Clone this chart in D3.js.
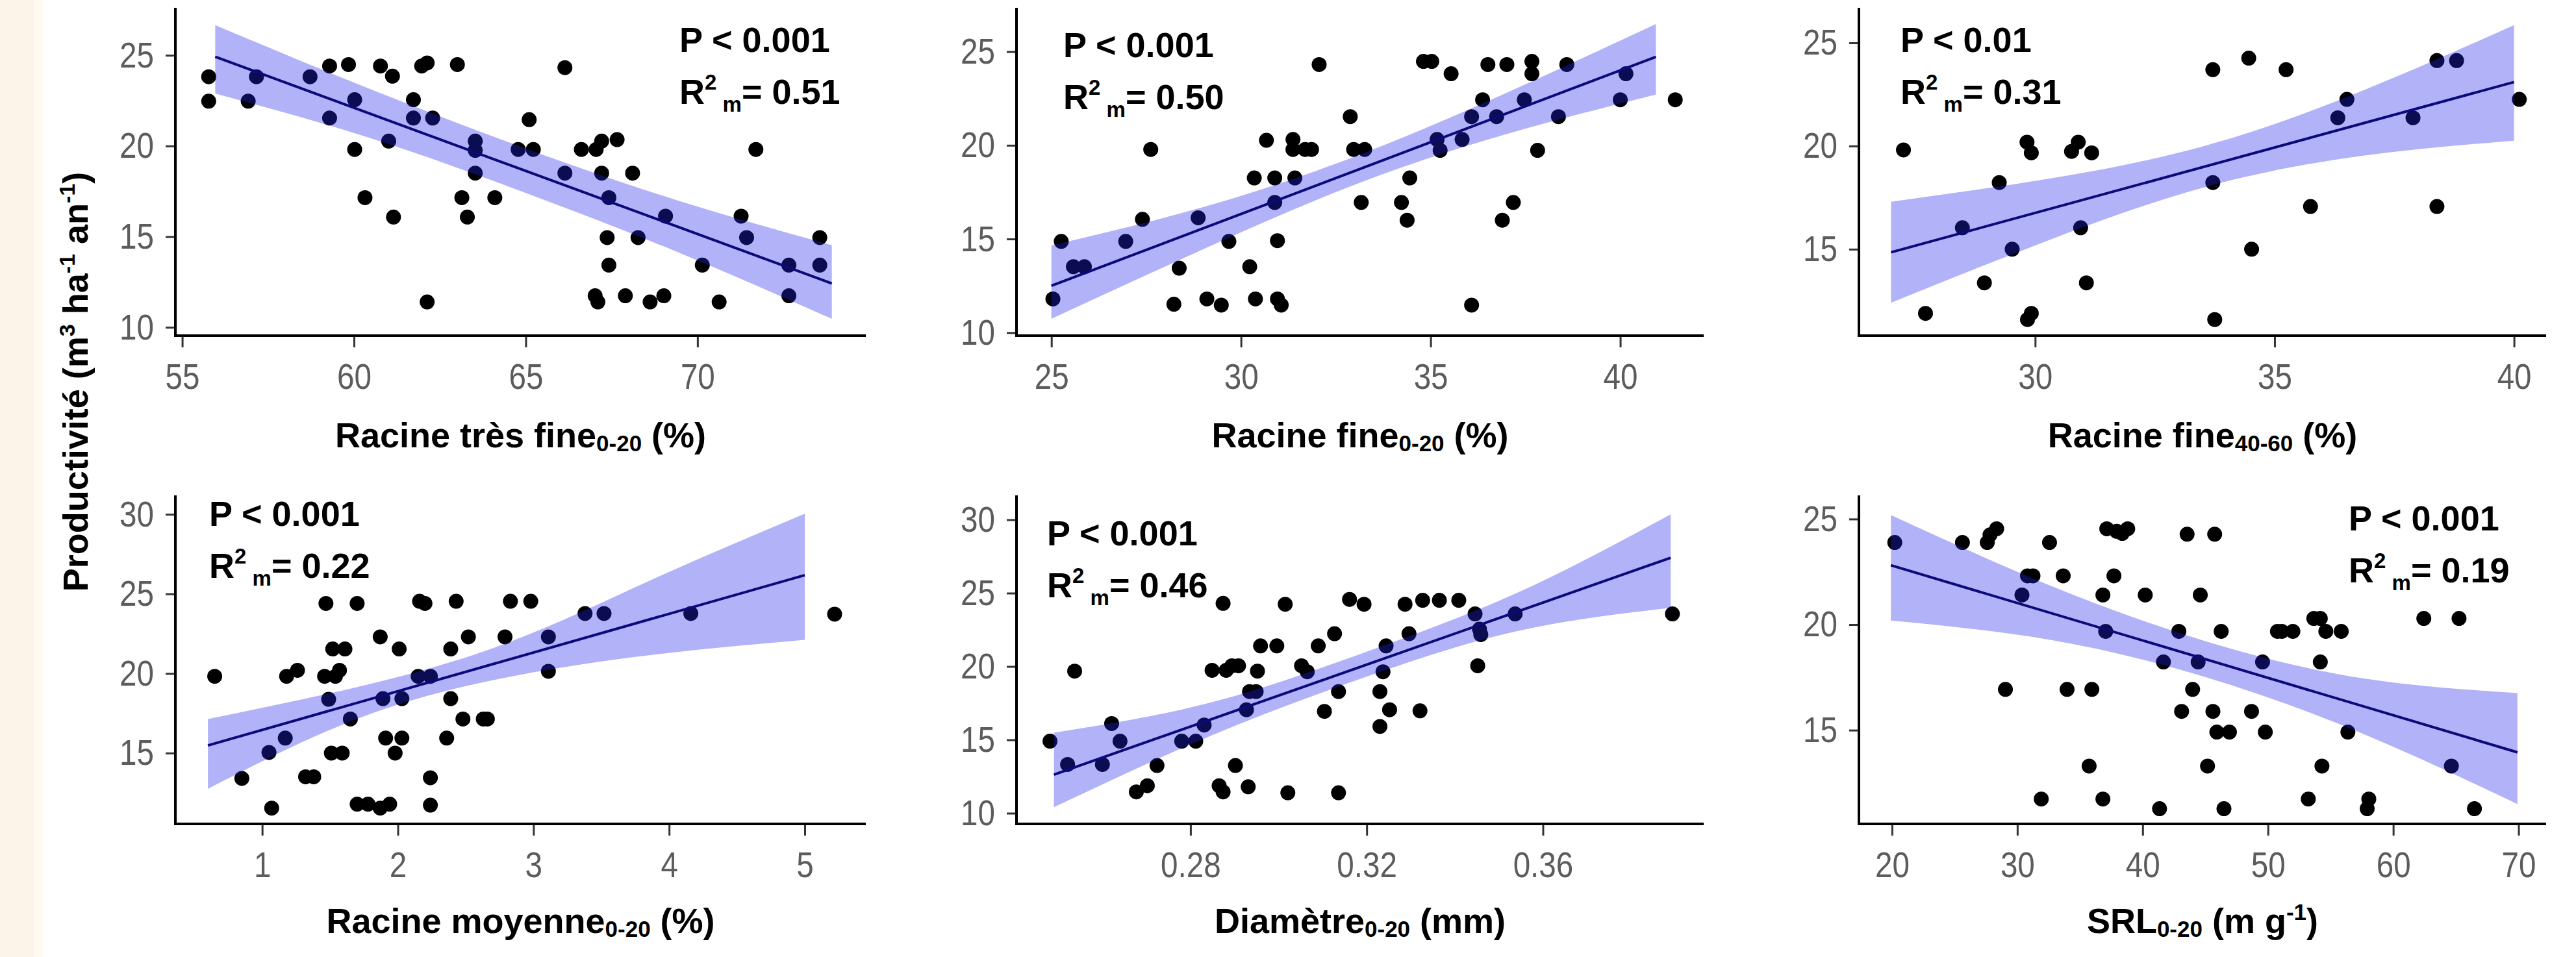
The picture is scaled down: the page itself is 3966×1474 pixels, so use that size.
<!DOCTYPE html>
<html>
<head>
<meta charset="utf-8">
<script src="https://cdn.jsdelivr.net/npm/d3@7"></script>
<style>
body{margin:0;background:#fff}
svg{display:block}
</style>
</head>
<body>
<svg id="chart" width="3966" height="1474"></svg>
<script>
// ---- data ----
// racine tres fine 0-20
var rtfX = [55.77,55.77,57.16,56.92,58.72,59.29,59.84,59.29,60.02,60.02,60.32,60.77,61.12,61.01,61.15,61.73,61.73,61.97,62.13,62.29,62.13,63.01,63.14,63.30,63.53,63.53,63.53,64.10,64.78,65.10,65.22,66.14,66.14,66.62,67.05,67.21,67.66,67.21,67.42,67.37,67.42,67.02,67.10,68.11,68.27,67.90,68.62,69.02,69.07,70.14,70.63,71.27,71.43,71.70,72.66,72.66,73.56,73.56];
var rtfY = [23.82,22.47,23.82,22.47,23.82,24.41,24.49,21.54,22.55,19.81,17.15,24.41,23.85,20.27,16.08,22.55,21.54,24.41,24.58,21.54,11.40,24.49,17.15,16.08,20.27,19.76,18.50,17.15,19.81,21.45,19.81,24.32,18.50,19.81,19.81,20.27,20.35,18.50,17.15,14.95,13.43,11.74,11.40,18.50,14.95,11.74,11.40,11.74,16.13,13.43,11.40,16.13,14.95,19.81,13.43,11.74,14.95,13.43];
// racine fine 0-20
var rfX = [25.04,25.26,25.58,25.87,26.96,27.40,27.62,28.23,28.37,28.87,29.10,29.48,29.68,30.23,30.35,30.38,30.67,30.89,30.89,30.96,30.96,31.06,31.37,31.37,31.42,31.69,31.86,32.06,32.88,32.97,33.26,33.17,34.23,34.38,34.45,34.81,35.03,35.17,35.25,35.54,35.83,36.08,36.08,36.37,36.51,36.74,36.89,37.01,37.18,37.47,37.67,37.67,37.82,38.37,38.59,40.00,40.15,41.45];
var rfY = [11.80,14.87,13.52,13.52,14.87,16.05,19.78,11.52,13.44,16.13,11.80,11.47,14.87,13.52,18.26,11.80,20.27,18.26,16.95,14.91,11.80,11.47,20.31,19.78,18.26,19.78,19.78,24.31,21.53,19.78,19.78,16.95,16.95,16.00,18.26,24.48,24.48,20.31,19.73,23.82,20.31,21.53,11.47,22.43,24.31,21.53,16.00,24.31,16.95,22.43,24.48,23.82,19.73,21.53,24.31,22.43,23.82,22.43];
// racine fine 40-60
var rf46X = [27.25,27.71,28.48,28.94,29.25,29.52,29.83,29.92,29.84,29.92,30.76,30.90,31.18,30.95,31.07,33.71,33.71,33.75,34.46,34.52,35.24,35.75,36.32,36.51,37.89,38.39,38.80,38.39,40.11];
var rf46Y = [19.81,11.89,16.04,13.37,18.23,15.00,20.19,19.67,11.59,11.89,19.74,20.19,19.67,16.04,13.37,23.70,18.23,11.59,24.26,15.00,23.70,17.07,21.37,22.26,21.37,24.14,24.14,17.07,22.26];
// racine moyenne 0-20
var rmX = [0.65,0.85,1.07,1.05,1.17,1.18,1.26,1.32,1.38,1.47,1.46,1.49,1.51,1.52,1.54,1.57,1.59,1.61,1.65,1.70,1.70,1.78,1.87,1.87,1.89,1.91,1.94,1.98,2.01,2.03,2.03,2.15,2.16,2.20,2.24,2.24,2.24,2.36,2.39,2.39,2.43,2.48,2.52,2.63,2.66,2.79,2.83,2.98,3.11,3.11,3.38,3.52,4.16,5.22];
var rmY = [19.82,13.41,11.54,15.04,15.94,19.82,20.20,13.51,13.51,24.40,19.82,18.38,15.00,21.54,19.82,20.20,15.00,21.54,17.14,24.40,11.79,11.79,11.54,22.30,18.42,15.94,11.79,15.00,21.54,18.42,15.94,19.82,24.54,24.40,19.82,13.45,11.73,15.94,18.42,21.54,24.54,17.14,22.30,17.14,17.14,22.30,24.54,24.54,22.30,20.14,23.77,23.77,23.77,23.73];
// diametre 0-20
var diamX = [0.2481,0.2521,0.2537,0.2600,0.2621,0.2640,0.2677,0.2702,0.2724,0.2780,0.2812,0.2831,0.2849,0.2865,0.2874,0.2874,0.2881,0.2894,0.2909,0.2902,0.2927,0.2931,0.2934,0.2949,0.2952,0.2959,0.2996,0.3015,0.3021,0.3052,0.3065,0.3090,0.3104,0.3127,0.3136,0.3136,0.3161,0.3194,0.3230,0.3230,0.3237,0.3244,0.3252,0.3287,0.3296,0.3321,0.3327,0.3365,0.3409,0.3446,0.3456,0.3459,0.3452,0.3537,0.3894];
var diamY = [14.91,13.32,19.68,13.32,16.11,14.91,11.45,11.87,13.25,14.91,14.91,16.01,19.74,11.87,11.45,24.30,19.74,20.05,20.05,13.25,17.05,11.80,18.29,18.29,19.68,21.40,21.40,24.24,11.39,20.05,19.64,21.40,16.94,22.23,18.29,11.39,24.57,24.24,18.29,15.91,19.64,21.40,17.05,24.24,22.23,16.98,24.51,24.51,24.51,23.58,22.54,22.17,20.05,23.58,23.58];
// SRL 0-20
var srlX = [20.22,25.62,27.60,27.82,28.35,29.05,30.37,30.81,31.25,31.91,32.57,33.66,33.97,35.73,35.95,36.83,36.83,37.14,37.71,37.93,38.37,38.81,37.05,40.21,41.35,41.66,42.89,43.11,43.55,43.99,44.43,44.60,45.18,45.61,45.75,45.92,46.27,46.49,46.93,48.69,49.57,49.79,50.76,51.11,51.99,53.22,53.66,54.18,54.18,54.31,54.62,55.85,56.38,57.92,58.05,62.44,64.64,65.25,66.48];
var srlY = [23.89,23.89,23.89,24.25,24.54,16.93,21.40,22.31,22.31,11.74,23.89,22.31,16.93,13.30,16.93,21.40,11.74,24.54,22.31,24.42,24.32,24.54,19.68,21.40,11.28,18.23,19.68,15.89,24.28,16.93,18.23,21.40,13.30,15.89,24.28,14.91,19.68,11.28,14.91,15.89,18.23,14.91,19.68,19.68,19.68,11.74,20.29,20.29,18.23,13.30,19.68,19.68,14.91,11.28,11.74,20.29,13.30,20.29,11.28];

// fitted lines [x0, y0, x1, y1]
var fitLines = [
  [55.96, 24.92, 73.91, 12.42],
  [25.00, 12.50, 40.94, 24.72],
  [26.99, 14.85, 40.00, 23.10],
  [0.60, 15.48, 5.00, 26.18],
  [0.249, 12.63, 0.389, 27.41],
  [19.91, 22.81, 69.91, 13.95]
];
// confidence bands, read at five x positions
var bandX = [
  [55.96, 60.45, 64.94, 69.42, 73.91],
  [25.00, 29.00, 33.00, 37.00, 40.94],
  [26.99, 30.24, 33.50, 36.75, 40.00],
  [0.60, 1.70, 2.80, 3.90, 5.00],
  [0.249, 0.284, 0.319, 0.354, 0.389],
  [19.91, 32.41, 44.91, 57.41, 69.91]
];
var bandLo = [
  [22.89, 20.45, 17.45, 14.15, 10.47],
  [10.74, 14.45, 17.90, 20.60, 22.71],
  [12.41, 15.40, 17.98, 19.50, 20.26],
  [12.75, 17.15, 19.75, 21.20, 22.11],
  [10.41, 15.20, 19.20, 22.40, 23.99],
  [20.19, 19.30, 17.53, 14.87, 11.50]
];
var bandHi = [
  [26.66, 23.15, 19.90, 17.00, 14.53],
  [14.66, 16.70, 19.40, 22.80, 26.47],
  [17.30, 18.40, 19.98, 22.60, 25.86],
  [17.14, 19.15, 21.90, 26.00, 30.04],
  [15.49, 17.50, 20.90, 25.00, 30.37],
  [25.19, 21.90, 19.23, 17.47, 16.76]
];

var pLabels = ["P < 0.001", "P < 0.001", "P < 0.01", "P < 0.001", "P < 0.001", "P < 0.001"];
var r2Labels = ["0.51", "0.50", "0.31", "0.22", "0.46", "0.19"];

var xTicks = [[55,60,65,70],[25,30,35,40],[30,35,40],[1,2,3,4,5],[0.28,0.32,0.36],[20,30,40,50,60,70]];
var yTicks = [[10,15,20,25],[10,15,20,25],[15,20,25],[15,20,25,30],[10,15,20,25,30],[15,20,25]];

// axis titles: [text, subscript, rest, superscript, tail]
var xTitles = [
  ["Racine très fine", "0-20", " (%)", "", ""],
  ["Racine fine", "0-20", " (%)", "", ""],
  ["Racine fine", "40-60", " (%)", "", ""],
  ["Racine moyenne", "0-20", " (%)", "", ""],
  ["Diamètre", "0-20", " (mm)", "", ""],
  ["SRL", "0-20", " (m g", "-1", ")"]
];

// ---- layout ----
var W = 3966, H = 1474;
var FONT = "'Liberation Sans', Arial, sans-serif";
var NARROW = 0.85; // tick labels are condensed
var svg = d3.select("#chart");

var cols = [[270, 1333], [1565, 2623], [2862, 3920]];
var rows = [[12, 517], [763, 1269]];

var panels = [
  {xs: rtfX, ys: rtfY, xDom: [54.8, 74.9], yDom: [9.54, 27.62], fmt: d3.format("d"), lab: [1046, 80]},
  {xs: rfX, ys: rfY, xDom: [24.08, 42.2], yDom: [9.84, 27.34], fmt: d3.format("d"), lab: [1637, 88]},
  {xs: rf46X, ys: rf46Y, xDom: [26.32, 40.67], yDom: [10.81, 26.7], fmt: d3.format("d"), lab: [2926, 80]},
  {xs: rmX, ys: rmY, xDom: [0.36, 5.45], yDom: [10.55, 31.19], fmt: d3.format("d"), lab: [322, 810]},
  {xs: diamX, ys: diamY, xDom: [0.2405, 0.3965], yDom: [9.27, 31.66], fmt: d3.format(".2f"), lab: [1612, 840]},
  {xs: srlX, ys: srlY, xDom: [17.36, 72.2], yDom: [10.56, 26.12], fmt: d3.format("d"), lab: [3616, 817]}
];

// background, faint cream strip on the left edge
svg.append("rect").attr("width", W).attr("height", H).attr("fill", "#ffffff");
svg.append("rect").attr("width", 52).attr("height", H).attr("fill", "#fcf4e8");
svg.append("rect").attr("x", 52).attr("width", 14).attr("height", H).attr("fill", "#fefaf2");

panels.forEach(function(p, i) {
  var c = cols[i % 3], r = rows[Math.floor(i / 3)];
  var x = d3.scaleLinear().domain(p.xDom).range([c[0], c[1]]);
  var y = d3.scaleLinear().domain(p.yDom).range([r[1], r[0]]);
  var g = svg.append("g").attr("class", "panel");

  var ax = g.append("g")
    .attr("transform", "translate(0," + r[1] + ")")
    .call(d3.axisBottom(x).tickValues(xTicks[i]).tickFormat(p.fmt).tickSize(18).tickPadding(24));
  var ay = g.append("g")
    .attr("transform", "translate(" + c[0] + ",0)")
    .call(d3.axisLeft(y).tickValues(yTicks[i]).tickFormat(d3.format("d")).tickSize(15).tickPadding(18));
  [ax, ay].forEach(function(a) {
    a.select(".domain").remove();
    a.selectAll(".tick line").attr("stroke", "#333").attr("stroke-width", 3);
    a.selectAll(".tick text")
      .attr("font-family", FONT)
      .attr("font-size", 56)
      .attr("fill", "#5c5c5c")
      .attr("transform", "scale(" + NARROW + ",1)");
  });
  ay.selectAll(".tick text").attr("x", -33 / NARROW);

  // axis lines (theme classic)
  g.append("line").attr("x1", c[0]).attr("x2", c[0]).attr("y1", r[0]).attr("y2", r[1] + 2)
    .attr("stroke", "#000").attr("stroke-width", 4);
  g.append("line").attr("x1", c[0] - 2).attr("x2", c[1]).attr("y1", r[1]).attr("y2", r[1])
    .attr("stroke", "#000").attr("stroke-width", 4);

  // points
  g.append("g").selectAll("circle")
    .data(d3.zip(p.xs, p.ys))
    .join("circle")
    .attr("cx", function(d) { return x(d[0]); })
    .attr("cy", function(d) { return y(d[1]); })
    .attr("r", 11.5)
    .attr("fill", "#000");

  // confidence band
  var area = d3.area()
    .x(function(d) { return x(d[0]); })
    .y0(function(d) { return y(d[1]); })
    .y1(function(d) { return y(d[2]); })
    .curve(d3.curveNatural);
  g.append("path")
    .datum(d3.zip(bandX[i], bandLo[i], bandHi[i]))
    .attr("d", area)
    .attr("fill", "#2222ea")
    .attr("fill-opacity", 0.35);

  // fitted line
  var f = fitLines[i];
  g.append("line")
    .attr("x1", x(f[0])).attr("y1", y(f[1]))
    .attr("x2", x(f[2])).attr("y2", y(f[3]))
    .attr("stroke", "#0a0a7a").attr("stroke-width", 4);

  // P and R2 labels
  var t = g.append("g").attr("font-family", FONT).attr("font-weight", "bold").attr("font-size", 54).attr("fill", "#000");
  t.append("text").attr("x", p.lab[0]).attr("y", p.lab[1]).text(pLabels[i]);
  var r2 = t.append("text").attr("x", p.lab[0]).attr("y", p.lab[1] + 80);
  r2.append("tspan").text("R");
  r2.append("tspan").attr("font-size", 33).attr("dy", -22).text("2");
  r2.append("tspan").attr("font-size", 33).attr("dy", 34).text(" m");
  r2.append("tspan").attr("dy", -12).text("= " + r2Labels[i]);

  // x title, centred on the panel
  var tt = xTitles[i];
  var title = g.append("text")
    .attr("x", (c[0] + c[1]) / 2).attr("y", i < 3 ? 689 : 1437)
    .attr("text-anchor", "middle")
    .attr("font-family", FONT).attr("font-weight", "bold").attr("font-size", 54).attr("fill", "#000");
  title.append("tspan").text(tt[0]);
  title.append("tspan").attr("font-size", 35).attr("dy", 6).text(tt[1]);
  title.append("tspan").attr("dy", -6).text(tt[2]);
  if (tt[3]) {
    title.append("tspan").attr("font-size", 35).attr("dy", -20).text(tt[3]);
    title.append("tspan").attr("dy", 20).text(tt[4]);
  }
});

// shared y title
var yt = svg.append("text")
  .attr("transform", "translate(135,588) rotate(-90)")
  .attr("text-anchor", "middle")
  .attr("font-family", FONT).attr("font-weight", "bold").attr("font-size", 54).attr("fill", "#000");
yt.append("tspan").text("Productivité (m");
yt.append("tspan").attr("font-size", 34).attr("dy", -20).text("3");
yt.append("tspan").attr("dy", 20).text(" ha");
yt.append("tspan").attr("font-size", 34).attr("dy", -20).text("-1");
yt.append("tspan").attr("dy", 20).text(" an");
yt.append("tspan").attr("font-size", 34).attr("dy", -20).text("-1");
yt.append("tspan").attr("dy", 20).text(")");
</script>
</body>
</html>
